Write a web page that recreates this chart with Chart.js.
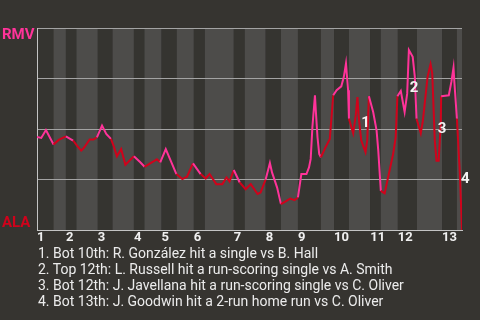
<!DOCTYPE html>
<html>
<head>
<meta charset="utf-8">
<script src="https://cdn.jsdelivr.net/npm/chart.js@4"></script>
<style>
  html, body { margin: 0; padding: 0; background: #363430; }
  #wrap { position: relative; width: 480px; height: 320px; }
  #notes {
    position: absolute; left: 38px; top: 245px;
    font: 14px Roboto, sans-serif; line-height: 16px; color: #ececec;
  }
  #notes div { white-space: nowrap; }
</style>
</head>
<body>
<div id="wrap">
  <canvas id="wpChart" width="480" height="320"></canvas>
  <div id="notes"></div>
</div>
<script>
// teams: away on top, home at the bottom
const awayTeam = 'RMV'
const homeTeam = 'ALA'
const awayColor = '#ff3399'
const homeColor = '#d0021b'

// inning labels and where each half-inning starts (game progress, 0..100)
const innings = ['1', '2', '3', '4', '5', '6', '7', '8', '9', '10', '11', '12', '13']
const halfStarts = [0, 3.9, 6.8, 9.3, 14.3, 17.8, 22.8, 25.3, 29.3, 32.9, 36.9, 39.5, 46.3,
    48.9, 53.8, 57.4, 61.4, 66.8, 69.9, 73.4, 78.4, 80.9, 84.9, 89.4, 95.3, 98.8]
const gameEnd = 100

// win probability of the away team after each play
const progress = [0, 1.0, 2.1, 3.9, 5.1, 6.8, 8.5, 9.4, 10.4, 11.0, 12.4, 13.3, 14.1, 15.3,
    16.3, 17.4, 18.0, 18.8, 19.8, 20.8, 22.8, 24.3, 25.3, 27.3, 28.2, 29.0, 30.3, 32.8,
    34.2, 35.3, 36.7, 38.5, 39.7, 40.6, 42.2, 43.6, 44.6, 45.3, 46.3, 47.7, 49.1, 50.3,
    51.9, 52.6, 53.8, 54.8, 55.3, 56.5, 57.4, 58.7, 59.6, 60.6, 61.4, 62.2, 63.4, 64.0,
    64.4, 64.8, 65.4, 65.6, 66.0, 66.4, 66.8, 67.9, 68.9, 69.7, 70.5, 71.6, 72.2, 72.7,
    73.2, 73.4, 74.4, 75.0, 75.4, 75.7, 76.3, 77.3, 77.7, 78.1, 79.1, 79.9, 80.3, 80.9,
    81.8, 82.6, 83.8, 84.4, 84.8, 85.6, 86.5, 87.1, 87.5, 88.4, 88.9, 89.3, 90.3, 90.8,
    91.9, 92.6, 93.0, 93.6, 94.0, 94.5, 95.0, 95.1, 96.9, 97.5, 98.0, 98.2, 98.8, 99.5, 100]
const winProb = [46, 45.6, 49.5, 42.3, 44.6, 46.4, 44.3, 41.8, 39.3, 40.6, 44.8, 44.8, 45.9, 51.7,
    47.6, 45.1, 41.8, 36.5, 40.1, 32.3, 36.5, 33.5, 31.3, 33.8, 35.0, 33.5, 40.1, 27.7,
    25.2, 26.4, 33.0, 27.7, 25.5, 27.7, 22.7, 22.7, 26.0, 24.0, 29.7, 23.5, 20.2, 22.7,
    17.8, 18.6, 25.0, 33.2, 28.5, 21.0, 12.8, 14.4, 15.6, 14.8, 16.1, 27.7, 27.7, 31.0,
    35.2, 50.9, 66.7, 59.2, 45.9, 37.7, 36.0, 41.0, 45.1, 66.7, 69.2, 71.1, 75.8, 82.4,
    69.2, 55.1, 47.9, 56.7, 65.8, 55.9, 44.3, 38.5, 44.3, 66.2, 58.4, 49.3, 39.3, 19.4,
    18.1, 26.0, 37.7, 45.9, 66.2, 68.8, 58.4, 67.5, 89.1, 85.7, 75.8, 55.1, 47.9, 54.2,
    75.8, 82.1, 77.5, 44.3, 34.3, 34.3, 52.6, 66.2, 66.7, 73.3, 80.4, 73.3, 55.1, 27.7, 0]

// key plays: marker label positions and captions
const markerX = [77.3, 88.7, 95.3, 100.8]
const markerY = [53.4, 70.8, 50.4, 25.6]
const notes = [
    'Bot 10th: R. González hit a single vs B. Hall',
    'Top 12th: L. Russell hit a run-scoring single vs A. Smith',
    'Bot 12th: J. Javellana hit a run-scoring single vs C. Oliver',
    'Bot 13th: J. Goodwin hit a 2-run home run vs C. Oliver'
]

const inningStarts = halfStarts.filter((v, i) => i % 2 === 0)

function halfOf(x){
    // a play sitting on a boundary closes the previous half
    let idx = 0
    for (let i = 1; i < halfStarts.length; i++){
        if (x > halfStarts[i]) idx = i
    }
    return idx
}

const bandsPlugin = {
    id: 'halfBands',
    beforeDraw(chart){
        const {ctx, chartArea, scales} = chart
        ctx.save()
        for (let i = 0; i < halfStarts.length; i++){
            const x0 = scales.x.getPixelForValue(halfStarts[i])
            const x1 = scales.x.getPixelForValue(i + 1 < halfStarts.length ? halfStarts[i + 1] : gameEnd)
            ctx.fillStyle = i % 2 === 0 ? '#353430' : '#4d4c4a'
            ctx.fillRect(x0, chartArea.top, x1 - x0, chartArea.bottom - chartArea.top)
        }
        ctx.restore()
    }
}

const textPlugin = {
    id: 'teamText',
    afterDatasetsDraw(chart){
        const {ctx, scales} = chart
        ctx.save()
        ctx.textAlign = 'left'
        ctx.textBaseline = 'alphabetic'
        ctx.font = 'bold 15px Roboto'
        ctx.fillStyle = awayColor
        ctx.fillText(awayTeam, 2, scales.y.getPixelForValue(100) + 11)
        ctx.fillStyle = homeColor
        ctx.fillText(homeTeam, 2, scales.y.getPixelForValue(0) - 3)

        ctx.textAlign = 'center'
        ctx.fillStyle = '#f2f2f2'
        markerX.forEach((mx, i) => {
            ctx.fillText(String(i + 1), scales.x.getPixelForValue(mx), scales.y.getPixelForValue(markerY[i]) + 5)
        })
        ctx.restore()
    }
}

document.getElementById('notes').innerHTML = notes.map((n, i) => '<div>' + (i + 1) + '. ' + n + '</div>').join('')

const chrt = document.getElementById('wpChart').getContext('2d')
const chartConfig = {
    type: 'line',
    data: {
        datasets: [{
            data: progress.map((p, i) => ({x: p, y: winProb[i]})),
            borderColor: awayColor,
            borderWidth: 2,
            pointRadius: 0,
            tension: 0,
            segment: {
                borderColor: ctx => halfOf(ctx.p1.parsed.x) % 2 === 0 ? awayColor : homeColor
            }
        }]
    },
    options: {
        responsive: false,
        animation: false,
        devicePixelRatio: 1,
        layout: { padding: { left: 37, top: 28, right: 18, bottom: 74 } },
        plugins: { legend: { display: false }, tooltip: { enabled: false } },
        scales: {
            x: {
                type: 'linear',
                min: 0,
                max: gameEnd,
                grid: { display: false, drawTicks: false },
                border: { display: true, color: '#c4c4c4', width: 1 },
                afterBuildTicks: scale => { scale.ticks = inningStarts.map(v => ({value: v})) },
                afterFit: scale => { scale.height = 16 },
                ticks: {
                    autoSkip: false,
                    maxRotation: 0,
                    align: 'start',
                    padding: 0,
                    color: '#f0f0f0',
                    font: { family: 'Roboto', size: 13, weight: 'bold' },
                    callback: (value) => innings[inningStarts.indexOf(value)]
                }
            },
            y: {
                min: 0,
                max: 100,
                grid: { color: '#a3a3a3', drawTicks: false },
                border: { display: true, color: '#c4c4c4', width: 1 },
                ticks: { display: false, stepSize: 25 }
            }
        }
    },
    plugins: [bandsPlugin, textPlugin]
}
var wpChart = new Chart(chrt, chartConfig)
</script>
</body>
</html>
